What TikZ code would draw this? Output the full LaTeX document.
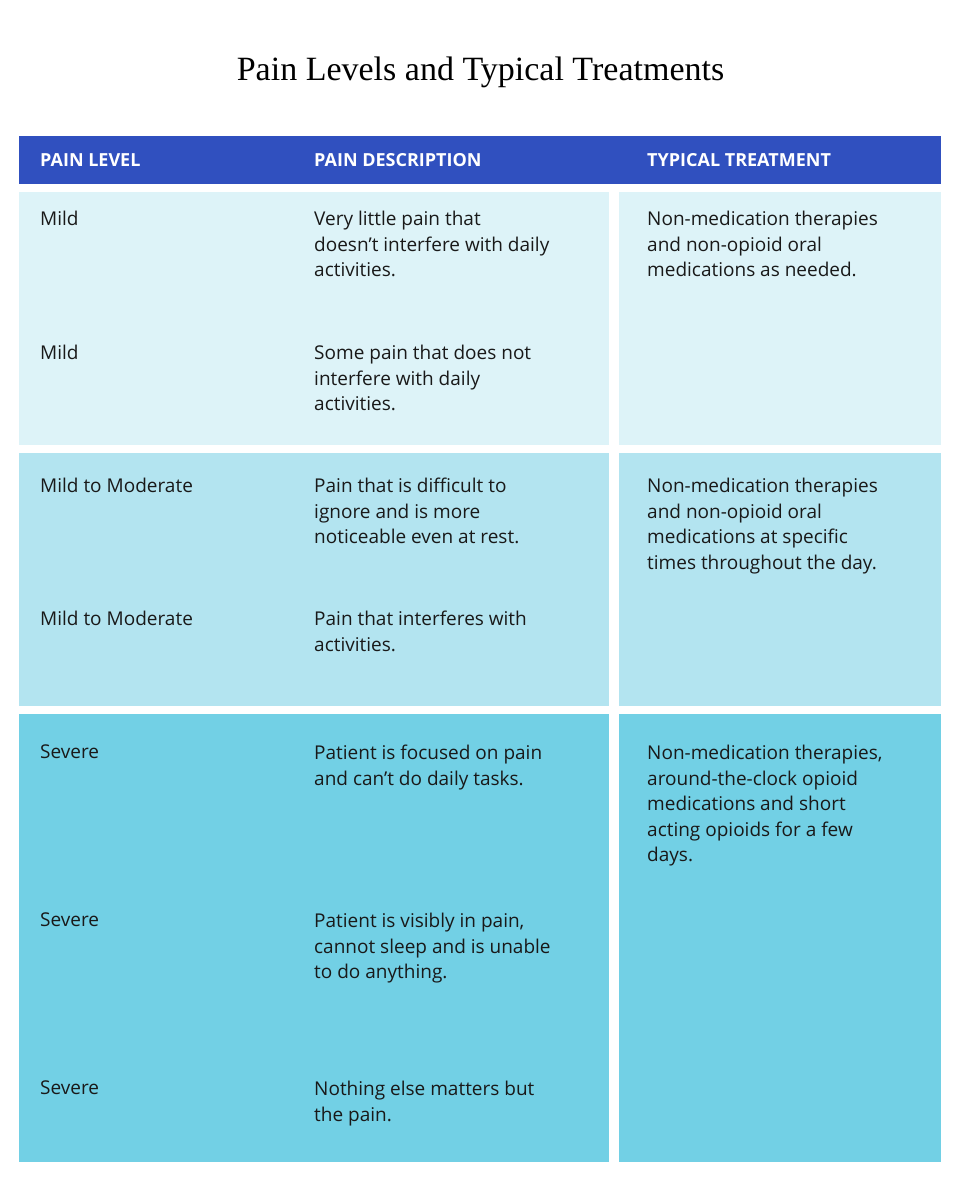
\documentclass[tikz,border=0pt]{standalone}
\usepackage{fontspec}
\setmainfont{Liberation Serif}
\newfontfamily\bodyf{Open Sans}
\begin{document}
\begin{tikzpicture}[x=1pt,y=-1pt,
  cell/.style={anchor=north west,inner sep=0pt,align=left,font=\bodyf\fontsize{19}{25.5}\selectfont,text=black!90},
  head/.style={anchor=west,inner sep=0pt,font=\bodyf\bfseries\fontsize{18}{22}\selectfont,text=white}]
\definecolor{hdr}{HTML}{3050BF}
\definecolor{ca}{HTML}{DDF3F8}
\definecolor{cb}{HTML}{B3E4F0}
\definecolor{cc}{HTML}{72D0E5}
\useasboundingbox[fill=white] (0,0) rectangle (961,1191);
\node[font=\fontsize{34}{40}\selectfont] (title) at (480.5,72) {Pain Levels and Typical Treatments};
\fill[hdr] (19,136) rectangle (941,184);
\node[head] (h1) at (40,160) {PAIN LEVEL};
\node[head] (h2) at (314,160) {PAIN DESCRIPTION};
\node[head] (h3) at (647,160) {TYPICAL TREATMENT};
\fill[ca] (19,192) rectangle (609,445); \fill[ca] (619,192) rectangle (941,445);
\fill[cb] (19,453) rectangle (609,706); \fill[cb] (619,453) rectangle (941,706);
\fill[cc] (19,714) rectangle (609,1162); \fill[cc] (619,714) rectangle (941,1162);
\node[cell] (l1) at (40,211) {Mild};
\node[cell] (d1) at (314,211) {Very little pain that\\doesn’t interfere with daily\\activities.};
\node[cell] (t1) at (647,211) {Non-medication therapies\\and non-opioid oral\\medications as needed.};
\node[cell] (l2) at (40,345) {Mild};
\node[cell] (d2) at (314,345) {Some pain that does not\\interfere with daily\\activities.};
\node[cell] (l3) at (40,478) {Mild to Moderate};
\node[cell] (d3) at (314,478) {Pain that is difficult to\\ignore and is more\\noticeable even at rest.};
\node[cell] (t3) at (647,478) {Non-medication therapies\\and non-opioid oral\\medications at specific\\times throughout the day.};
\node[cell] (l4) at (40,611) {Mild to Moderate};
\node[cell] (d4) at (314,611) {Pain that interferes with\\activities.};
\node[cell] (l5) at (40,745) {Severe};
\node[cell] (d5) at (314,745) {Patient is focused on pain\\and can’t do daily tasks.};
\node[cell] (t5) at (647,745) {Non-medication therapies,\\around-the-clock opioid\\medications and short\\acting opioids for a few\\days.};
\node[cell] (l6) at (40,913) {Severe};
\node[cell] (d6) at (314,913) {Patient is visibly in pain,\\cannot sleep and is unable\\to do anything.};
\node[cell] (l7) at (40,1081) {Severe};
\node[cell] (d7) at (314,1081) {Nothing else matters but\\the pain.};
\end{tikzpicture}
\end{document}
